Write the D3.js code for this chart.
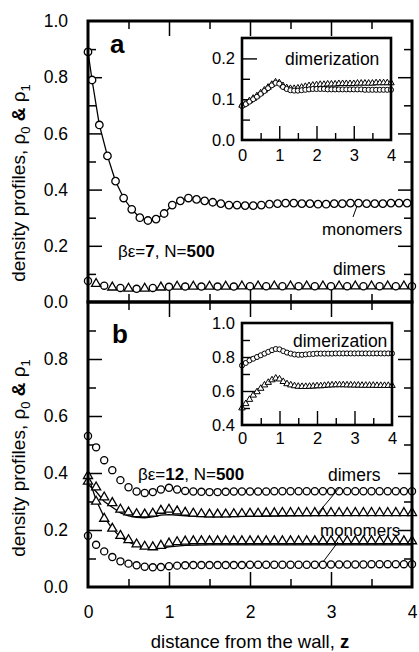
<!DOCTYPE html>
<html><head><meta charset="utf-8">
<script src="https://cdn.jsdelivr.net/npm/d3@7"></script>
<style>body{margin:0;background:#fff}svg{display:block}text{font-family:"Liberation Sans",Arial,Helvetica,sans-serif;fill:#000}</style>
</head><body><svg id="c" width="419" height="652"></svg>
<script>
// ---------- data ----------
const Z = [0,0.1,0.2,0.3,0.4,0.5,0.6,0.7,0.8,0.9,1,1.1,1.2,1.3,1.4,1.5,1.6,1.7,1.8,1.9,2,2.1,2.2,2.3,2.4,2.5,2.6,2.7,2.8,2.9,3,3.1,3.2,3.3,3.4,3.5,3.6,3.7,3.8,3.9,4];
const Zeven = [0,0.2,0.4,0.6,0.8,1,1.2,1.4,1.6,1.8,2,2.2,2.4,2.6,2.8,3,3.2,3.4,3.6,3.8,4];
const Zodd  = [0.1,0.3,0.5,0.7,0.9,1.1,1.3,1.5,1.7,1.9,2.1,2.3,2.5,2.7,2.9,3.1,3.3,3.5,3.7,3.9];

// panel a (βε=7)
const zMonoA = [0,0.05,0.14,0.24,0.34,0.44,0.54,0.64,0.74,0.84,0.94,1.04,1.14,1.24,1.34,1.44,1.54,1.64,1.74,1.84,1.94,2.04,2.14,2.24,2.34,2.44,2.54,2.64,2.74,2.84,2.94,3.04,3.14,3.24,3.34,3.44,3.54,3.64,3.74,3.84,3.94];
const monoA = [0.89,0.79,0.63,0.52,0.43,0.37,0.33,0.30,0.29,0.295,0.315,0.345,0.36,0.37,0.365,0.36,0.355,0.35,0.345,0.345,0.343,0.343,0.345,0.348,0.35,0.352,0.352,0.35,0.35,0.348,0.348,0.35,0.35,0.352,0.352,0.35,0.35,0.35,0.352,0.352,0.352];
const dimCircA = [0.075,0.058,0.05,0.047,0.05,0.054,0.055,0.055,0.055,0.055,0.056,0.056,0.056,0.056,0.056,0.056,0.056,0.056,0.056,0.056,0.056];
const dimTriA  = [0.065,0.052,0.048,0.048,0.052,0.055,0.055,0.055,0.055,0.056,0.056,0.056,0.056,0.056,0.056,0.056,0.056,0.056,0.056,0.056];

// inset a (dimerization, βε=7)
const insACirc = [0.083,0.088,0.094,0.100,0.106,0.113,0.12,0.127,0.134,0.14,0.138,0.13,0.125,0.122,0.121,0.121,0.122,0.123,0.124,0.125,0.125,0.125,0.125,0.124,0.124,0.124,0.124,0.124,0.124,0.124,0.124,0.124,0.124,0.123,0.123,0.123,0.123,0.123,0.123,0.123,0.123];
const insATri  = [0.085,0.09,0.096,0.102,0.108,0.115,0.122,0.129,0.136,0.142,0.14,0.133,0.128,0.126,0.126,0.127,0.129,0.131,0.133,0.134,0.135,0.136,0.136,0.137,0.137,0.137,0.138,0.138,0.138,0.138,0.138,0.139,0.139,0.139,0.139,0.139,0.14,0.14,0.14,0.14,0.14];

// panel b (βε=12)
const upCircB = [0.53,0.49,0.445,0.41,0.375,0.35,0.335,0.33,0.333,0.342,0.348,0.342,0.337,0.335,0.334,0.333,0.333,0.334,0.335,0.335,0.335,0.335,0.335,0.336,0.336,0.336,0.336,0.336,0.336,0.336,0.336,0.336,0.336,0.336,0.336,0.336,0.336,0.336,0.336,0.336,0.336];
const upTriB  = [0.37,0.35,0.315,0.295,0.272,0.262,0.256,0.255,0.258,0.268,0.272,0.266,0.261,0.258,0.256,0.255,0.255,0.255,0.256,0.257,0.258,0.258,0.259,0.259,0.26,0.26,0.26,0.26,0.26,0.26,0.26,0.26,0.26,0.26,0.26,0.26,0.26,0.26,0.26,0.26,0.26];
const loTriB  = [0.39,0.30,0.24,0.205,0.18,0.165,0.15,0.142,0.14,0.145,0.153,0.158,0.16,0.161,0.161,0.161,0.161,0.161,0.161,0.161,0.161,0.161,0.161,0.161,0.161,0.161,0.161,0.161,0.161,0.161,0.161,0.161,0.161,0.161,0.161,0.161,0.161,0.161,0.161,0.161,0.161];
const loCircB = [0.18,0.148,0.125,0.105,0.09,0.082,0.076,0.071,0.069,0.07,0.073,0.075,0.076,0.077,0.077,0.077,0.077,0.077,0.077,0.077,0.078,0.078,0.078,0.078,0.078,0.078,0.078,0.078,0.078,0.078,0.079,0.079,0.079,0.079,0.079,0.08,0.08,0.08,0.08,0.08,0.08];
const zLineB  = [0,0.1,0.2,0.3,0.4,0.5,0.6,0.7,0.8,0.9,1.0,1.2,1.5,2,2.5,3,3.5,4];
const upLineB = [0.36,0.335,0.30,0.28,0.26,0.25,0.244,0.243,0.246,0.252,0.254,0.25,0.246,0.248,0.25,0.251,0.252,0.252];
const loLineB = [0.39,0.305,0.245,0.205,0.175,0.158,0.145,0.137,0.133,0.136,0.141,0.146,0.148,0.148,0.148,0.148,0.148,0.148];

// inset b (dimerization, βε=12)
const insBCirc = [0.75,0.765,0.78,0.79,0.80,0.81,0.82,0.83,0.84,0.847,0.845,0.835,0.826,0.82,0.815,0.813,0.813,0.815,0.817,0.818,0.82,0.82,0.82,0.82,0.82,0.821,0.821,0.821,0.821,0.821,0.821,0.821,0.821,0.821,0.821,0.821,0.821,0.821,0.821,0.821,0.821];
const insBTri  = [0.50,0.525,0.55,0.575,0.595,0.615,0.635,0.65,0.665,0.675,0.67,0.655,0.642,0.635,0.63,0.627,0.626,0.626,0.627,0.628,0.63,0.63,0.632,0.634,0.635,0.636,0.636,0.636,0.635,0.635,0.634,0.634,0.633,0.633,0.633,0.633,0.632,0.632,0.632,0.632,0.632];

// ticks / labels
const mainYLabelsA = [0,0.2,0.4,0.6,0.8,1.0];
const mainYLabelsB = [0,0.2,0.4,0.6,0.8];
const mainYMajor = [0.2,0.4,0.6,0.8];
const mainYMinor = [0.1,0.3,0.5,0.7,0.9];
const xLabels = [0,1,2,3,4];
const xMajor = [1,2,3];
const xMinor = [0.5,1.5,2.5,3.5];
const insAYLabels = [0,0.1,0.2];
const insAYMajor = [0.1,0.2];
const insAYMinor = [0.05,0.15];
const insBYLabels = [0.4,0.6,0.8,1.0];
const insBYMajor = [0.6,0.8];
const insBYMinor = [0.5,0.7,0.9];

// ---------- drawing ----------
const svg = d3.select("#c");
const FONT = '"Liberation Sans",Arial,Helvetica,sans-serif';
const x = d3.scaleLinear().domain([0,4]).range([88,412]);
const yA = d3.scaleLinear().domain([0,1]).range([302,21]);
const yB = d3.scaleLinear().domain([0,1]).range([587,302]);
const xi = d3.scaleLinear().domain([0,4]).range([242,391]);
const yiA = d3.scaleLinear().domain([0,0.25]).range([140,38]);
const xiB = d3.scaleLinear().domain([0,4]).range([242,392]);
const yiB = d3.scaleLinear().domain([0.4,1.0]).range([425,323]);
const fmt = d3.format(".1f");

function ticks(g, axisFn, scale, vals, size, tr, sw){
  const a = g.append("g").attr("transform", tr)
    .call(axisFn(scale).tickValues(vals).tickSize(size).tickFormat(""));
  a.select(".domain").remove();
  a.selectAll("line").attr("stroke","#000").attr("stroke-width",sw);
}
function labels(g, axisFn, scale, vals, pad, tr, fs, f){
  const a = g.append("g").attr("transform", tr)
    .call(axisFn(scale).tickValues(vals).tickSize(0).tickPadding(pad).tickFormat(f||fmt));
  a.select(".domain").remove();
  a.selectAll("line").remove();
  a.selectAll("text").attr("font-family",FONT).attr("font-size",fs).attr("fill","#000");
}
function marks(g, sx, sy, zs, vs, type, size, sw){
  const sym = d3.symbol().type(type==="c"?d3.symbolCircle:d3.symbolTriangle).size(size);
  g.append("g").selectAll("path").data(zs.map((z,i)=>[z,vs[i]])).join("path")
    .attr("d", sym)
    .attr("transform", d=>`translate(${sx(d[0])},${sy(d[1])})`)
    .attr("fill","#fff").attr("stroke","#000").attr("stroke-width",sw);
}
function line(g, sx, sy, zs, vs, sw){
  g.append("path").datum(zs.map((z,i)=>[z,vs[i]]))
    .attr("d", d3.line().x(d=>sx(d[0])).y(d=>sy(d[1])))
    .attr("fill","none").attr("stroke","#000").attr("stroke-width",sw);
}

const g = svg.append("g");
// main panel ticks
[[yA,302,21],[yB,587,302]].forEach(([ys,yb,yt])=>{
  ticks(g, d3.axisLeft, ys, mainYMajor, -14, "translate(88,0)", 1.5);
  ticks(g, d3.axisLeft, ys, mainYMinor, -8, "translate(88,0)", 1.5);
  ticks(g, d3.axisRight, ys, mainYMajor, -14, "translate(412,0)", 1.5);
  ticks(g, d3.axisRight, ys, mainYMinor, -8, "translate(412,0)", 1.5);
  ticks(g, d3.axisBottom, x, xMajor, -15, `translate(0,${yb})`, 1.5);
  ticks(g, d3.axisBottom, x, xMinor, -8, `translate(0,${yb})`, 1.5);
  ticks(g, d3.axisTop, x, xMajor, -15, `translate(0,${yt})`, 1.5);
  ticks(g, d3.axisTop, x, xMinor, -8, `translate(0,${yt})`, 1.5);
});
labels(g, d3.axisLeft, yA, mainYLabelsA, 20, "translate(88,0)", 17.5);
labels(g, d3.axisLeft, yB, mainYLabelsB, 20, "translate(88,0)", 17.5);
labels(g, d3.axisBottom, x, xLabels, 19, "translate(0,587)", 17.5, d3.format("d"));

// panel a data
line(g, x, yA, zMonoA, monoA, 1.3);
marks(g, x, yA, zMonoA, monoA, "c", 44, 1.3);
marks(g, x, yA, Zeven, dimCircA, "c", 40, 1.3);
marks(g, x, yA, Zodd, dimTriA, "t", 36, 1.3);

// panel b data
line(g, x, yB, zLineB, upLineB, 1.3);
line(g, x, yB, zLineB, loLineB, 1.3);
marks(g, x, yB, Z, upCircB, "c", 40, 1.3);
marks(g, x, yB, Z, upTriB, "t", 36, 1.3);
marks(g, x, yB, Z, loTriB, "t", 36, 1.3);
marks(g, x, yB, Z, loCircB, "c", 40, 1.3);

// main frames
g.append("rect").attr("x",88).attr("y",21).attr("width",324).attr("height",281)
  .attr("fill","none").attr("stroke","#000").attr("stroke-width",3);
g.append("rect").attr("x",88).attr("y",302).attr("width",324).attr("height",285)
  .attr("fill","none").attr("stroke","#000").attr("stroke-width",3);

// insets
function inset(sx, sy, yMaj, yMin, yLab, dA, dB, lblPad){
  const [x0,x1] = sx.range(); const [yb,yt] = sy.range();
  const ig = svg.append("g");
  ig.append("rect").attr("x",x0).attr("y",yt).attr("width",x1-x0).attr("height",yb-yt).attr("fill","#fff");
  ticks(ig, d3.axisLeft, sy, yMaj, -15, `translate(${x0},0)`, 1.4);
  ticks(ig, d3.axisLeft, sy, yMin, -8, `translate(${x0},0)`, 1.4);
  ticks(ig, d3.axisBottom, sx, xMajor, -14, `translate(0,${yb})`, 1.4);
  ticks(ig, d3.axisBottom, sx, xMinor, -7, `translate(0,${yb})`, 1.4);
  marks(ig, sx, sy, Z, dB, "t", 18, 1);
  marks(ig, sx, sy, Z, dA, "c", 20, 1);
  ig.append("rect").attr("x",x0).attr("y",yt).attr("width",x1-x0).attr("height",yb-yt)
    .attr("fill","none").attr("stroke","#000").attr("stroke-width",2.6);
  labels(ig, d3.axisLeft, sy, yLab, 7, `translate(${x0},0)`, 16.5);
  labels(ig, d3.axisBottom, sx, xLabels, lblPad, `translate(0,${yb})`, 16.5, d3.format("d"));
  return ig;
}
inset(xi, yiA, insAYMajor, insAYMinor, insAYLabels, insACirc, insATri, 9);
inset(xiB, yiB, insBYMajor, insBYMinor, insBYLabels, insBCirc, insBTri, 7);

// texts
function txt(xp, yp, s, fs, weight){
  return svg.append("text").attr("x",xp).attr("y",yp).attr("font-size",fs)
    .attr("font-weight",weight||"normal").attr("font-family",FONT).text(s);
}
txt(110,53,"a",26,"bold");
txt(112,343,"b",26,"bold");
txt(285,65,"dimerization",17.5);
txt(293,347,"dimerization",17.5);
txt(322,235,"monomers",17);
txt(333,275,"dimers",17.5);
txt(328,481,"dimers",17.5);
txt(320,536,"monomers",17);

function param(xp, yp, be){
  const t = svg.append("text").attr("x",xp).attr("y",yp).attr("font-size",17).attr("font-family",FONT);
  t.append("tspan").text("βε=");
  t.append("tspan").attr("font-weight","bold").text(be);
  t.append("tspan").text(", N=");
  t.append("tspan").attr("font-weight","bold").text("500");
}
param(118,257,"7");
param(138,480,"12");

// pointer lines
function ptr(x1,y1,x2,y2){
  svg.append("line").attr("x1",x1).attr("y1",y1).attr("x2",x2).attr("y2",y2)
    .attr("stroke","#000").attr("stroke-width",1);
}
ptr(357,206,353,217);
ptr(340,487,318,513);
ptr(338,542,323,562);

// y titles
function ytitle(cy){
  const t = svg.append("text").attr("transform",`translate(25,${cy}) rotate(-90)`)
    .attr("text-anchor","middle").attr("font-size",19).attr("font-family",FONT);
  t.append("tspan").text("density profiles,  ρ");
  t.append("tspan").attr("font-size",13).attr("dy",5).text("0");
  t.append("tspan").attr("dy",-5).text(" ");
  t.append("tspan").attr("font-weight","bold").text("&");
  t.append("tspan").text(" ρ");
  t.append("tspan").attr("font-size",13).attr("dy",5).text("1");
}
ytitle(183);
ytitle(458);

// x title
const xt = svg.append("text").attr("x",250).attr("y",648).attr("text-anchor","middle")
  .attr("font-size",18.5).attr("font-family",FONT);
xt.append("tspan").text("distance from the wall, ");
xt.append("tspan").attr("font-weight","bold").text("z");
</script></body></html>
